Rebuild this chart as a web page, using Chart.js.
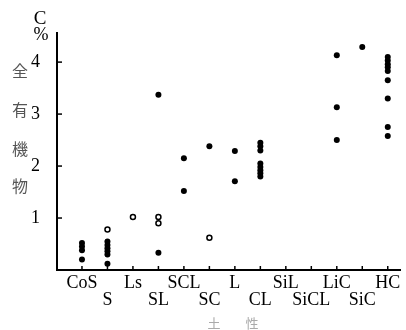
<!DOCTYPE html>
<html>
<head>
<meta charset="utf-8">
<script src="https://cdn.jsdelivr.net/npm/chart.js@4/dist/chart.umd.min.js"></script>
<style>
  html, body { margin: 0; padding: 0; background: #fff; }
  #wrap { width: 406px; height: 330px; position: relative; }
</style>
</head>
<body>
<div id="wrap"><canvas id="chart"></canvas></div>
<script>
  // Soil texture classes (x axis)
  var categories = ["CoS", "S", "Ls", "SL", "SCL", "SC", "L", "CL", "SiL", "SiCL", "LiC", "SiC", "HC"];

  // Total organic matter C %, solid dots, per class
  var filledValues = [
    [0.52, 0.45, 0.38, 0.2],
    [0.55, 0.48, 0.42, 0.36, 0.3, 0.12],
    [],
    [3.37, 0.33],
    [2.15, 1.52],
    [2.38],
    [2.29, 1.71],
    [2.45, 2.38, 2.3, 2.05, 1.98, 1.92, 1.86, 1.8],
    [],
    [],
    [4.13, 3.13, 2.5],
    [4.29],
    [4.1, 4.03, 3.96, 3.9, 3.83, 3.65, 3.3, 2.75, 2.58]
  ];

  // Open circles, per class
  var openValues = [[], [0.78], [1.02], [1.02, 0.9], [], [0.62], [], [], [], [], [], [], []];

  var yTicks = [1, 2, 3, 4];
  var yTitle = ["C", "%"];
  var yName = ["全", "有", "機", "物"];
  var xName = ["土", "性"];

  function toPoints(values) {
    var pts = [];
    values.forEach(function (list, i) {
      list.forEach(function (v) {
        pts.push({ x: i, y: v });
      });
    });
    return pts;
  }

  var serif = "'Liberation Serif', 'DejaVu Serif', serif";

  // Short inner tick marks and the axis captions
  var decorPlugin = {
    id: "decor",
    afterDraw: function (chart) {
      var ctx = chart.ctx;
      var xs = chart.scales.x;
      var ys = chart.scales.y;
      var area = chart.chartArea;

      ctx.save();
      ctx.strokeStyle = "#000";
      ctx.lineWidth = 1.5;
      categories.forEach(function (c, i) {
        var px = xs.getPixelForValue(i);
        ctx.beginPath();
        ctx.moveTo(px, area.bottom);
        ctx.lineTo(px, area.bottom - 4);
        ctx.stroke();
      });
      yTicks.forEach(function (v) {
        var py = ys.getPixelForValue(v);
        ctx.beginPath();
        ctx.moveTo(area.left, py);
        ctx.lineTo(area.left + 5, py);
        ctx.stroke();
      });

      ctx.fillStyle = "#000";
      ctx.textAlign = "center";
      ctx.textBaseline = "middle";
      ctx.font = "19px " + serif;
      ctx.fillText(yTitle[0], 40, 19);
      ctx.font = "18px " + serif;
      ctx.fillText(yTitle[1], 41, 35);

      ctx.fillStyle = "#555";
      ctx.font = "16px 'Noto Sans CJK JP'";
      var ny = [71, 110, 149, 186];
      yName.forEach(function (ch, i) {
        ctx.fillText(ch, 20, ny[i]);
      });

      ctx.fillStyle = "#aaa";
      ctx.font = "13px 'Noto Sans CJK JP'";
      ctx.fillText(xName[0], 214, 323);
      ctx.fillText(xName[1], 252, 323);
      ctx.restore();
    }
  };

  new Chart(document.getElementById("chart"), {
    type: "scatter",
    data: {
      datasets: [
        {
          data: toPoints(filledValues),
          pointRadius: 3,
          pointBackgroundColor: "#000",
          pointBorderColor: "#000",
          pointBorderWidth: 0
        },
        {
          data: toPoints(openValues),
          pointRadius: 2.5,
          pointBackgroundColor: "#fff",
          pointBorderColor: "#000",
          pointBorderWidth: 1.5
        }
      ]
    },
    options: {
      responsive: true,
      maintainAspectRatio: false,
      animation: false,
      layout: { padding: { top: 33, right: 4, left: 0, bottom: 0 } },
      plugins: {
        legend: { display: false },
        tooltip: { enabled: false }
      },
      scales: {
        x: {
          type: "linear",
          min: -0.98,
          max: 12.5,
          grid: { display: false },
          border: { display: true, color: "#000", width: 2 },
          afterBuildTicks: function (scale) {
            scale.ticks = categories.map(function (c, i) {
              return { value: i };
            });
          },
          afterFit: function (scale) {
            scale.height = 60;
          },
          ticks: {
            autoSkip: false,
            maxRotation: 0,
            padding: -3,
            color: "#000",
            font: { family: serif, size: 18, lineHeight: 0.95 },
            callback: function (value) {
              var name = categories[value];
              return value % 2 === 0 ? [name] : ["", name];
            }
          }
        },
        y: {
          min: 0,
          max: 4.56,
          grid: { display: false },
          border: { display: true, color: "#000", width: 2 },
          afterBuildTicks: function (scale) {
            scale.ticks = yTicks.map(function (v) {
              return { value: v };
            });
          },
          afterFit: function (scale) {
            scale.width = 57;
          },
          ticks: {
            padding: 9,
            color: "#000",
            font: { family: serif, size: 18 }
          }
        }
      }
    },
    plugins: [decorPlugin]
  });
</script>
</body>
</html>
